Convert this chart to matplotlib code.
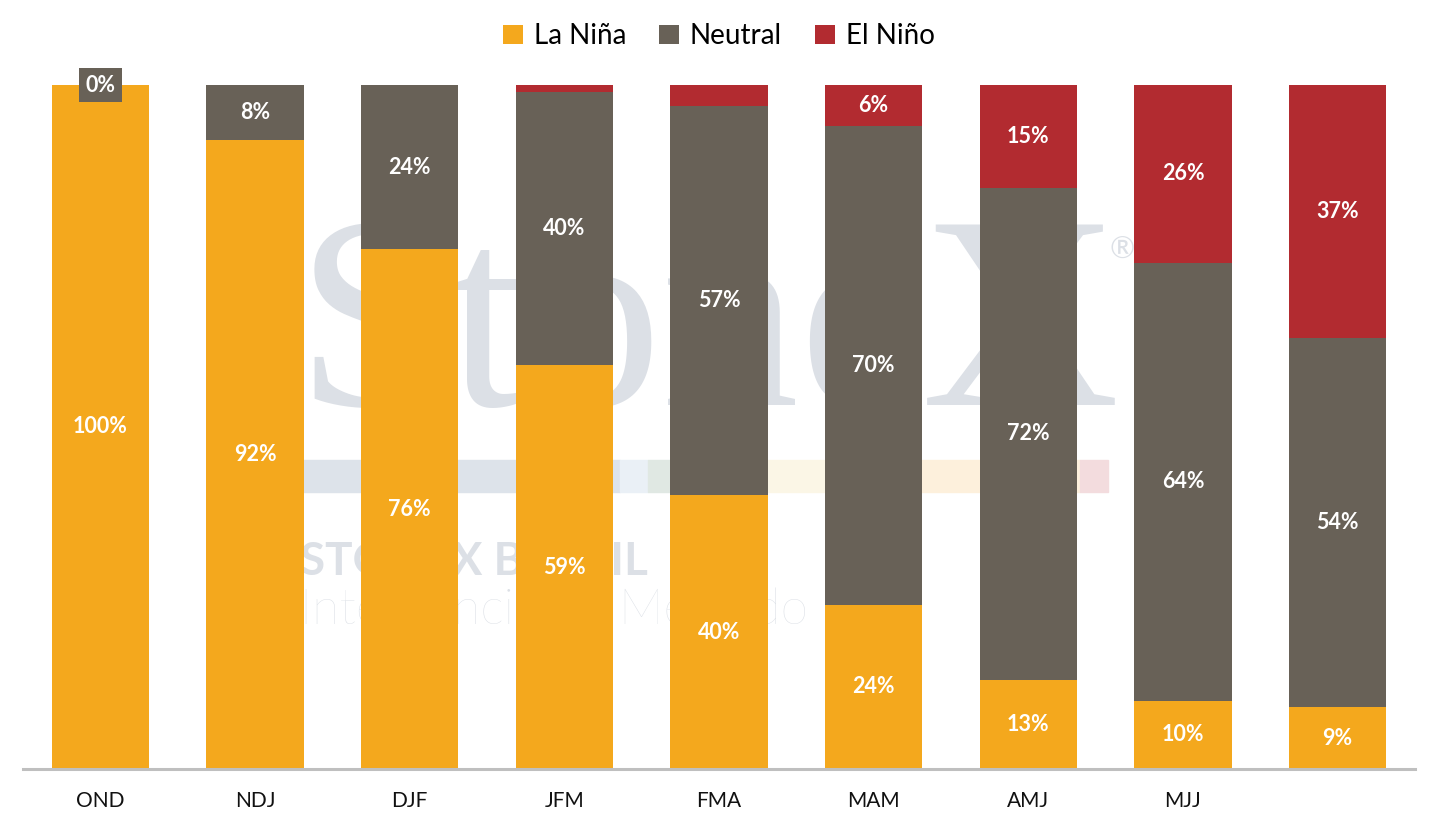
import matplotlib.pyplot as plt
from matplotlib.patches import Rectangle
import numpy as np

# data
periods = ["OND", "NDJ", "DJF", "JFM", "FMA", "MAM", "AMJ", "MJJ", ""]
la_nina = [100, 92, 76, 59, 40, 24, 13, 10, 9]
neutral = [0, 8, 24, 40, 57, 70, 72, 64, 54]
el_nino = [0, 0, 0, 1, 3, 6, 15, 26, 37]

series_names = ["La Niña", "Neutral", "El Niño"]
colors = ["#F4A81D", "#686157", "#B22B30"]

plt.rcParams["font.family"] = ["Lato", "DejaVu Sans"]

fig = plt.figure(figsize=(14.38, 8.27), dpi=100)
ax = fig.add_axes([23 / 1438, 1 - 769 / 827, (1415 - 23) / 1438, (769 - 85) / 827])

x = np.arange(len(periods))
width = 0.63
bottom = np.zeros(len(periods))
all_series = [la_nina, neutral, el_nino]

for name, vals, col in zip(series_names, all_series, colors):
    vals = np.array(vals, dtype=float)
    ax.bar(x, vals, width, bottom=bottom, color=col, label=name, zorder=2)
    for i, v in enumerate(vals):
        yc = bottom[i] + v / 2
        if name == "Neutral" and i == 0:
            # zero label drawn on a grey box at the top of the bar
            ax.text(x[i], yc, f"{v:.0f}%", ha="center", va="center", color="white",
                    fontsize=15.5, fontweight="bold", zorder=4,
                    bbox=dict(boxstyle="square,pad=0.3", fc=col, ec="none"))
        elif v >= 5:
            ax.text(x[i], yc, f"{v:.0f}%", ha="center", va="center", color="white",
                    fontsize=15.5, fontweight="bold", zorder=4)
    bottom += vals

ax.set_xlim(-0.5, len(periods) - 0.5)
ax.set_ylim(0, 100)
ax.set_xticks(x)
ax.set_xticklabels(periods, fontsize=15, color="#111111")
ax.tick_params(axis="x", length=0, pad=16)
ax.set_yticks([])
for side in ["top", "right", "left"]:
    ax.spines[side].set_visible(False)
ax.spines["bottom"].set_color("#BFBFBF")
ax.spines["bottom"].set_linewidth(2.2)
ax.spines["bottom"].set_zorder(3)

# faint company watermark behind the bars
wm = "#DCE0E6"
fig.text(296 / 1438, 1 - 405 / 827, "StoneX", fontsize=198, family="Liberation Serif",
         color=wm, ha="left", va="baseline", zorder=0)
fig.text(1122 / 1438, 1 - 250 / 827, "®", fontsize=22, color=wm, ha="center",
         va="center", zorder=0)
band = [("#DDE3EA", 300, 620), ("#EAF0F6", 620, 648), ("#E0E8E3", 648, 700),
        ("#FBF6E6", 700, 860), ("#FDF0DC", 860, 1080), ("#F3DCDE", 1080, 1108)]
for c, x0, x1 in band:
    fig.patches.append(Rectangle((x0 / 1438, 1 - 492 / 827), (x1 - x0) / 1438, 32 / 827,
                                 transform=fig.transFigure, color=c, zorder=0))
fig.text(300 / 1438, 1 - 562 / 827, "STONEX BRASIL", fontsize=33, fontweight="bold",
         color=wm, ha="left", va="center", zorder=0)
fig.text(300 / 1438, 1 - 610 / 827, "Inteligência de Mercado", fontsize=36,
         fontweight="light", color=wm, ha="left", va="center", zorder=0)
ax.set_facecolor("none")
ax.set_zorder(1)

leg = fig.legend(loc="center", bbox_to_anchor=(0.5, 1 - 36 / 827), ncol=3,
                 frameon=False, fontsize=20, handlelength=0.7, handleheight=0.7,
                 handletextpad=0.4, columnspacing=1.2)

fig.savefig("out.png", dpi=100)
